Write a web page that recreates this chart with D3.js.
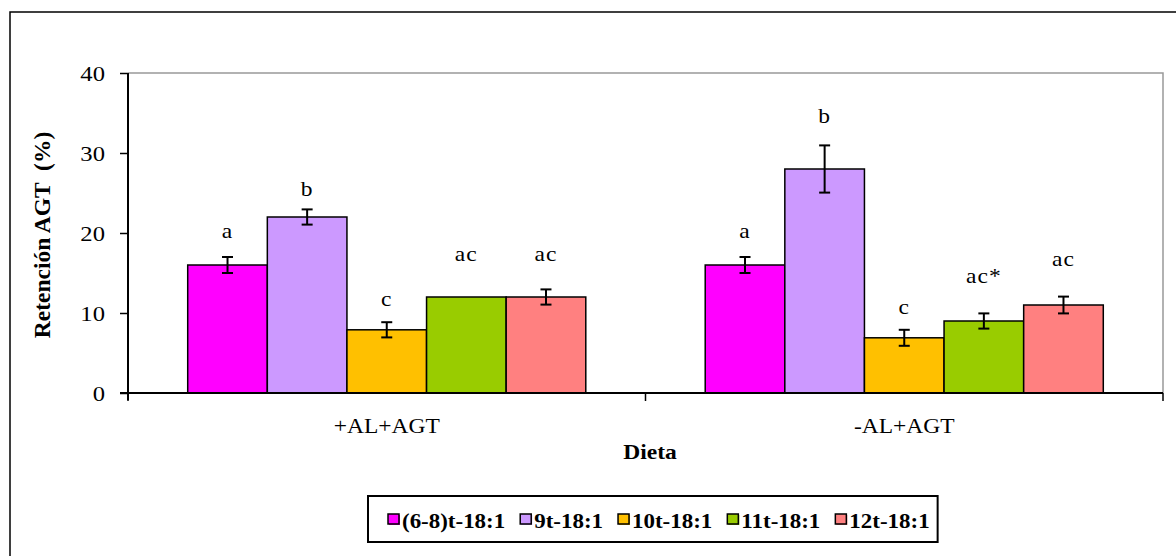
<!DOCTYPE html>
<html>
<head>
<meta charset="utf-8">
<script src="https://cdn.jsdelivr.net/npm/d3@7"></script>
<style>
  html, body { margin: 0; padding: 0; background: #fff; }
  svg { display: block; }
  text { font-family: "Liberation Serif", "Times New Roman", serif; fill: #000; }
</style>
</head>
<body>
<svg id="chart" width="1176" height="556"></svg>
<script>
// Diet groups and fatty-acid isomers
const diets = ["+AL+AGT", "-AL+AGT"];
const isomers = ["(6-8)t-18:1", "9t-18:1", "10t-18:1", "11t-18:1", "12t-18:1"];
const colors = ["#FF00FF", "#CC99FF", "#FFC000", "#99CC00", "#FF8080"];

// Retention (%) per diet, one value per isomer
const retentionALAGT = [16, 22, 7.9, 12, 12];
const retentionNoAL = [16, 28, 6.9, 9, 11];
// Error bar half-lengths
const errALAGT = [1, 0.95, 0.95, 0, 0.95];
const errNoAL = [1, 2.95, 1, 0.95, 1.05];
// Significance letters and their heights (in %)
const lettersALAGT = ["a", "b", "c", "ac", "ac"];
const lettersNoAL = ["a", "b", "c", "ac*", "ac"];
const letterYALAGT = [19.4, 24.6, 10.9, 16.5, 16.5];
const letterYNoAL = [19.4, 33.75, 9.9, 13.75, 15.9];

const yTicks = [0, 10, 20, 30, 40];

const values = [retentionALAGT, retentionNoAL];
const errors = [errALAGT, errNoAL];
const letters = [lettersALAGT, lettersNoAL];
const letterY = [letterYALAGT, letterYNoAL];

const svg = d3.select("#chart");
const SX = 1.12; // horizontal stretch of text

// outer chart frame
svg.append("rect")
  .attr("x", 10).attr("y", 12).attr("width", 1200).attr("height", 600)
  .attr("fill", "none").attr("stroke", "#000").attr("stroke-width", 1.5);

const plot = { left: 128, right: 1163, top: 73, bottom: 393 };

const x0 = d3.scaleBand().domain(diets).range([plot.left, plot.right]).paddingInner(0).paddingOuter(0);
const x1 = d3.scaleBand().domain(isomers).range([0, x0.bandwidth()]).paddingInner(0).paddingOuter(0.75);
const y = d3.scaleLinear().domain([0, 40]).range([plot.bottom, plot.top]);

// plot area top and right edges
svg.append("path")
  .attr("d", `M${plot.left},${plot.top}H${plot.right}V${plot.bottom}`)
  .attr("fill", "none").attr("stroke", "#999").attr("stroke-width", 1.5);

// bars
const groups = svg.selectAll("g.group")
  .data(diets.map((d, i) => ({ diet: d, i })))
  .join("g").attr("class", "group")
  .attr("transform", d => `translate(${x0(d.diet)},0)`);

groups.each(function (g) {
  const gi = g.i;
  const sel = d3.select(this);
  const rows = isomers.map((iso, k) => ({
    iso, k, v: values[gi][k], e: errors[gi][k], lab: letters[gi][k], ly: letterY[gi][k]
  }));

  sel.selectAll("rect.bar").data(rows).join("rect")
    .attr("class", "bar")
    .attr("x", d => x1(d.iso))
    .attr("y", d => y(d.v))
    .attr("width", x1.bandwidth())
    .attr("height", d => y(0) - y(d.v))
    .attr("fill", d => colors[d.k])
    .attr("stroke", "#000").attr("stroke-width", 1.5);

  const eb = sel.selectAll("g.err").data(rows.filter(d => d.e > 0)).join("g")
    .attr("class", "err")
    .attr("transform", d => `translate(${x1(d.iso) + x1.bandwidth() / 2},0)`)
    .attr("stroke", "#000").attr("stroke-width", 2);
  eb.append("line").attr("y1", d => y(d.v - d.e)).attr("y2", d => y(d.v + d.e));
  eb.append("line").attr("x1", -5.5).attr("x2", 5.5).attr("y1", d => y(d.v + d.e)).attr("y2", d => y(d.v + d.e));
  eb.append("line").attr("x1", -5.5).attr("x2", 5.5).attr("y1", d => y(d.v - d.e)).attr("y2", d => y(d.v - d.e));

  sel.selectAll("text.letter").data(rows).join("text")
    .attr("class", "letter")
    .attr("transform", d => `translate(${x1(d.iso) + x1.bandwidth() / 2},${y(d.ly)}) scale(${SX},1)`)
    .attr("text-anchor", "middle")
    .attr("font-size", 21)
    .attr("letter-spacing", 1)
    .text(d => d.lab);
});

// y axis
const yAxis = svg.append("g").attr("transform", `translate(${plot.left},0)`)
  .call(d3.axisLeft(y).tickValues(yTicks).tickSize(8).tickFormat(""));
yAxis.select(".domain").attr("stroke", "#000").attr("stroke-width", 2)
  .attr("d", `M0,${plot.top}V${plot.bottom + 7}`);
yAxis.selectAll(".tick line").attr("stroke", "#000").attr("stroke-width", 1.5);

svg.selectAll("text.ytick").data(yTicks).join("text")
  .attr("class", "ytick")
  .attr("transform", d => `translate(105,${y(d) + 7.5}) scale(${SX},1)`)
  .attr("text-anchor", "end")
  .attr("font-size", 22)
  .text(d => d);

// x axis
svg.append("line")
  .attr("x1", plot.left - 8).attr("x2", plot.right)
  .attr("y1", plot.bottom).attr("y2", plot.bottom)
  .attr("stroke", "#000").attr("stroke-width", 2);
const boundaries = [plot.left, ...diets.slice(1).map(d => x0(d)), plot.right];
svg.selectAll("line.xtick").data(boundaries).join("line")
  .attr("class", "xtick")
  .attr("x1", d => d).attr("x2", d => d)
  .attr("y1", plot.bottom).attr("y2", plot.bottom + 8)
  .attr("stroke", "#000").attr("stroke-width", 1.5);

svg.selectAll("text.xcat").data(diets).join("text")
  .attr("class", "xcat")
  .attr("transform", d => `translate(${x0(d) + x0.bandwidth() / 2},433) scale(${SX},1)`)
  .attr("text-anchor", "middle")
  .attr("font-size", 21)
  .text(d => d);

// axis titles
svg.append("text")
  .attr("transform", `translate(650,459) scale(${SX},1)`)
  .attr("text-anchor", "middle")
  .attr("font-size", 21).attr("font-weight", "bold")
  .text("Dieta");

svg.append("text")
  .attr("transform", "translate(50,235) rotate(-90)")
  .attr("text-anchor", "middle")
  .attr("font-size", 23.5).attr("font-weight", "bold")
  .style("white-space", "pre")
  .text("Retención AGT  (%)");

// legend
const legend = svg.append("g");
const legendBox = legend.append("rect")
  .attr("x", 368).attr("y", 496).attr("height", 46)
  .attr("fill", "#fff").attr("stroke", "#000").attr("stroke-width", 2);

let lx = 388;
isomers.forEach((name, k) => {
  const item = legend.append("g");
  item.append("rect").attr("x", lx + 1).attr("y", 515).attr("width", 11).attr("height", 10)
    .attr("fill", colors[k]);
  item.append("rect").attr("x", lx).attr("y", 514).attr("width", 11).attr("height", 10)
    .attr("fill", colors[k]).attr("stroke", "#000").attr("stroke-width", 1.5);
  const t = item.append("text")
    .attr("transform", `translate(${lx + 14},527.5) scale(${SX},1)`)
    .attr("font-size", 20.5).attr("font-weight", "bold")
    .text(name);
  const w = t.node().getComputedTextLength() * SX;
  lx += 14 + w + 15;
});
legendBox.attr("width", lx - 15 + 8 - 368);
</script>
</body>
</html>
